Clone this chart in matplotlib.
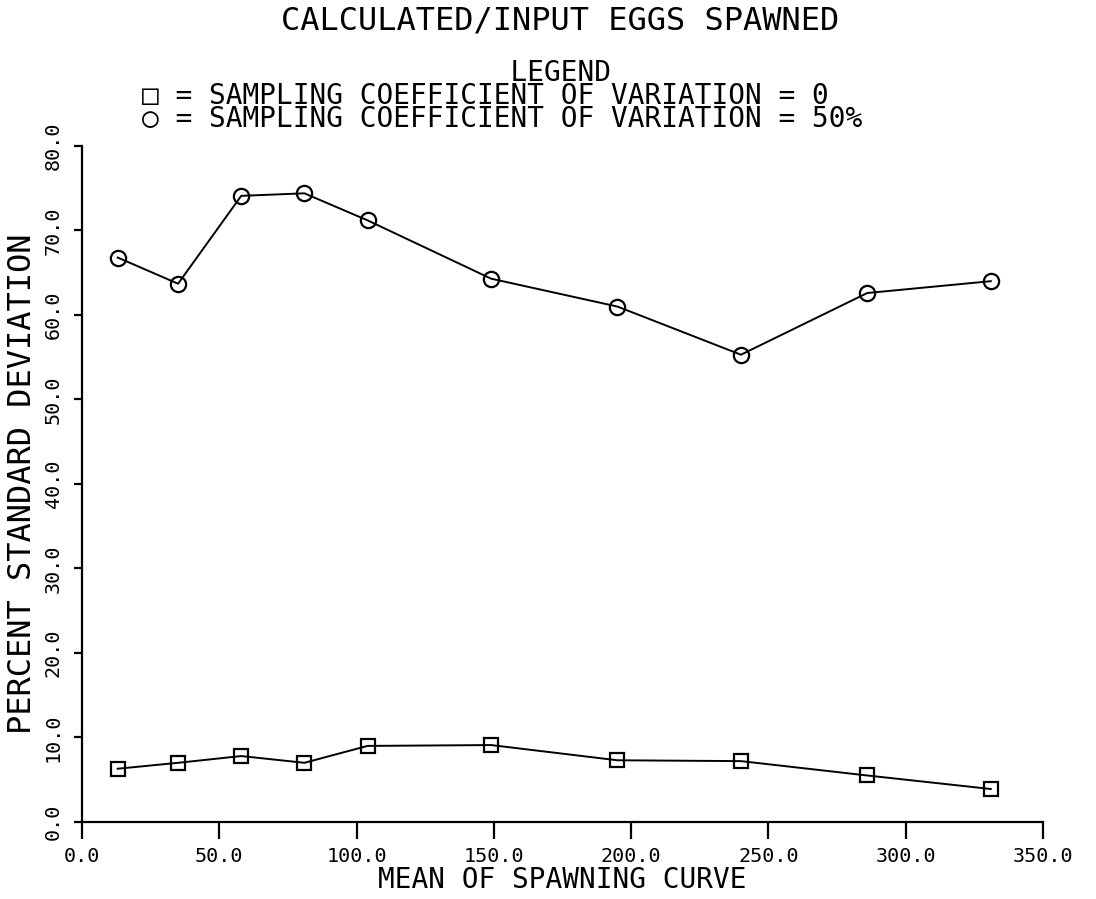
import numpy as np
import matplotlib.pyplot as plt

# mean of spawning curve (x) and percent standard deviation (y)
mean_spawn = [13, 35, 58, 81, 104, 149, 195, 240, 286, 331]
cv_zero = [6.3, 7.0, 7.8, 7.0, 9.0, 9.1, 7.3, 7.2, 5.5, 3.9]
cv_fifty = [66.8, 63.7, 74.1, 74.4, 71.2, 64.3, 61.0, 55.3, 62.6, 64.0]

x_ticks = [0, 50, 100, 150, 200, 250, 300, 350]
y_ticks = [0, 10, 20, 30, 40, 50, 60, 70, 80]

legend_lines = [
    " " * 22 + "LEGEND",
    "□ = SAMPLING COEFFICIENT OF VARIATION = 0",
    "○ = SAMPLING COEFFICIENT OF VARIATION = 50%",
]

plt.rcParams.update({"font.family": ["DejaVu Sans Mono"], "font.size": 14.5})

fig = plt.figure(figsize=(10.96, 8.99), dpi=100)
ax = fig.add_axes([0.0748, 0.0857, 0.8768, 0.7519])

ax.plot(mean_spawn, cv_zero, color="black", lw=1.4, marker="s", ms=10,
        mfc="none", mec="black", mew=1.6)
ax.plot(mean_spawn, cv_fifty, color="black", lw=1.4, marker="o", ms=11,
        mfc="none", mec="black", mew=1.6)

ax.set_xlim(0, 350)
ax.set_ylim(0, 80)
ax.set_xticks(x_ticks)
ax.set_xticklabels([f"{v:.1f}" for v in x_ticks])
ax.set_yticks(y_ticks)
ax.set_yticklabels([f"{v:.1f}" for v in y_ticks], rotation=90, va="center")

for s in ["top", "right"]:
    ax.spines[s].set_visible(False)
for s in ["left", "bottom"]:
    ax.spines[s].set_linewidth(1.6)
ax.tick_params(axis="x", length=12, width=1.6, pad=6)
ax.tick_params(axis="y", length=6, width=1.6, pad=8)

ax.set_xlabel("MEAN OF SPAWNING CURVE", fontsize=20, labelpad=0)
ax.set_ylabel("PERCENT STANDARD DEVIATION", fontsize=23, labelpad=4)

fig.text(0.511, 0.977, "CALCULATED/INPUT EGGS SPAWNED", ha="center", va="center",
         fontsize=23)
fig.text(0.130, 0.893, "\n".join(legend_lines), ha="left", va="center",
         fontsize=20, linespacing=0.78)

plt.savefig("out.png", dpi=100)
